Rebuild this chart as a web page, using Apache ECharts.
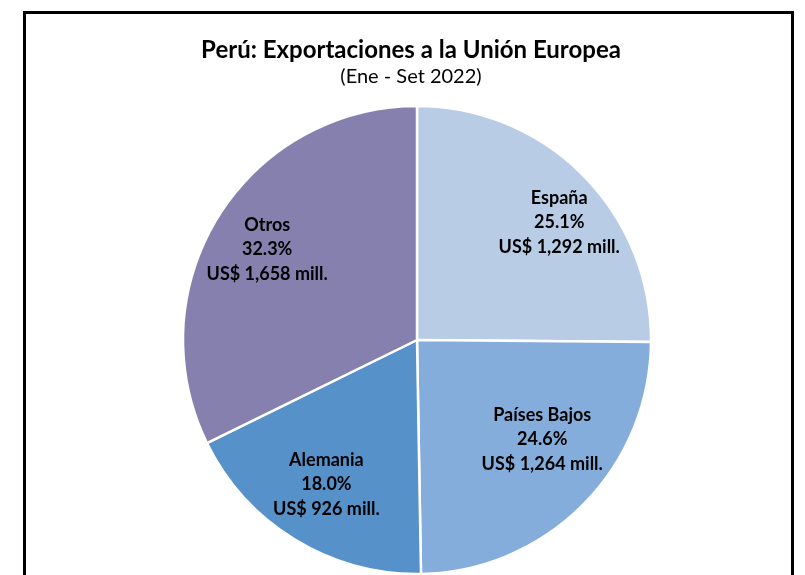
<!DOCTYPE html>
<html>
<head>
<meta charset="utf-8">
<script src="https://cdn.jsdelivr.net/npm/echarts@6/dist/echarts.min.js"></script>
<style>
html,body{margin:0;padding:0;background:#fff;}
#chart{width:805px;height:575px;}
</style>
</head>
<body>
<div id="chart"></div>
<script>
const categories = ['España', 'Países Bajos', 'Alemania', 'Otros'];
const values = [1292, 1264, 926, 1658];
const percents = ['25.1%', '24.6%', '18.0%', '32.3%'];
const valueLabels = ['US$ 1,292 mill.', 'US$ 1,264 mill.', 'US$ 926 mill.', 'US$ 1,658 mill.'];
const colors = ['#B8CCE6', '#85ADDB', '#5691C9', '#8580AD'];
const labelShift = [[57, -33], [40, 15], [-28, 42], [-48, -27]];

const chart = echarts.init(document.getElementById('chart'), null, {renderer: 'canvas'});
const FONT = 'Lato, "Open Sans", sans-serif';
chart.setOption({
  backgroundColor: '#fff',
  animation: false,
  title: {
    text: 'Perú: Exportaciones a la Unión Europea',
    subtext: '(Ene - Set 2022)',
    left: 406,
    top: 33,
    textAlign: 'center',
    itemGap: 5,
    textStyle: {fontFamily: FONT, fontWeight: 'bold', fontSize: 24, color: '#000'},
    subtextStyle: {fontFamily: FONT, fontSize: 20, color: '#000'}
  },
  graphic: [{
    type: 'rect',
    shape: {x: 24.5, y: 12.5, width: 768, height: 620},
    style: {fill: 'none', stroke: '#000', lineWidth: 3},
    silent: true
  }],
  series: [{
    type: 'pie',
    center: [417, 340],
    radius: [0, 234],
    startAngle: 90,
    clockwise: true,
    avoidLabelOverlap: false,
    itemStyle: {borderColor: '#fff', borderWidth: 2.5},
    label: {
      show: true,
      position: 'inside',
      fontFamily: FONT,
      fontWeight: 'bold',
      fontSize: 18,
      lineHeight: 24.5,
      color: '#000',
      align: 'center',
      formatter: p => p.name + '\n' + percents[p.dataIndex] + '\n' + valueLabels[p.dataIndex]
    },
    labelLine: {show: false},
    labelLayout: p => ({dx: labelShift[p.dataIndex][0], dy: labelShift[p.dataIndex][1]}),
    data: categories.map((c, i) => ({name: c, value: values[i], itemStyle: {color: colors[i]}}))
  }]
});
</script>
</body>
</html>
